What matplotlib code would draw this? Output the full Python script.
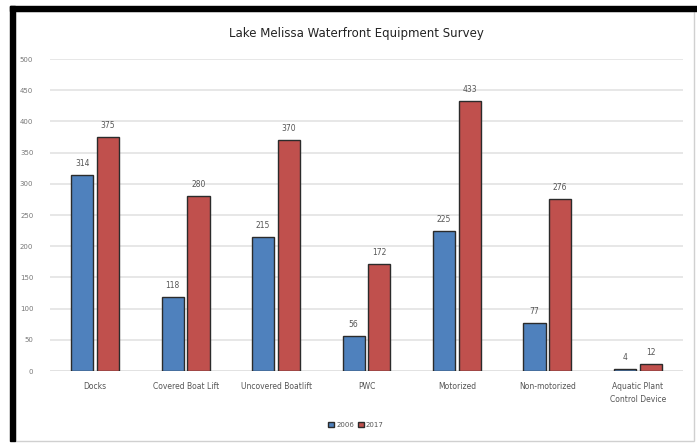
import numpy as np
import matplotlib.pyplot as plt
from matplotlib.patches import Rectangle

categories = ['Docks', 'Covered Boat Lift', 'Uncovered Boatlift', 'PWC',
              'Motorized', 'Non-motorized', 'Aquatic Plant\nControl Device']
years = ['2006', '2017']
vals_2006 = [314, 118, 215, 56, 225, 77, 4]
vals_2017 = [375, 280, 370, 172, 433, 276, 12]
yticks = [0, 50, 100, 150, 200, 250, 300, 350, 400, 450, 500]

W, H = 697, 445
fig = plt.figure(figsize=(W / 100, H / 100), dpi=100)
fig.patch.set_facecolor('white')

# frame around the picture
fig.patches.append(Rectangle((10 / W, 1 - 441 / H), 5 / W, 435 / H,
                             transform=fig.transFigure, color='black', zorder=5))
fig.patches.append(Rectangle((10 / W, 1 - 11 / H), 687 / W, 5 / H,
                             transform=fig.transFigure, color='black', zorder=5))
fig.patches.append(Rectangle((15 / W, 1 - 441 / H), 679 / W, 430 / H,
                             transform=fig.transFigure, facecolor='none',
                             edgecolor='#d0d0d0', lw=1, zorder=4))

ax = fig.add_axes([50 / W, 1 - 371 / H, 633 / W, 312 / H])

x = np.arange(len(categories))
w = 0.245
gap = 0.02
b1 = ax.bar(x - w / 2 - gap, vals_2006, w, color='#4F81BD', edgecolor='#2b2b2b',
            lw=1.0, label=years[0], zorder=3)
b2 = ax.bar(x + w / 2 + gap, vals_2017, w, color='#C0504D', edgecolor='#2b2b2b',
            lw=1.0, label=years[1], zorder=3)

for bars in (b1, b2):
    for r in bars:
        ax.annotate(str(int(r.get_height())), (r.get_x() + r.get_width() / 2, r.get_height()),
                    xytext=(0, 5), textcoords='offset points', ha='center', va='bottom',
                    fontsize=5.5, color='#555555')

ax.set_xlim(-0.5, len(categories) - 0.5)
ax.set_ylim(0, 500)
ax.set_yticks(yticks)
ax.tick_params(axis='y', labelsize=5, colors='#777777', length=0, pad=12)
ax.set_xticks(x)
ax.set_xticklabels(categories, fontsize=5.5, color='#555555', linespacing=1.6)
ax.tick_params(axis='x', length=0, pad=8)
ax.grid(axis='y', color='#e3e3e3', lw=1.2, zorder=0)
for s in ax.spines.values():
    s.set_visible(False)
ax.axhline(0, color='#d8d8d8', lw=1.2, zorder=1)

fig.text(356 / W, 1 - 33 / H, 'Lake Melissa Waterfront Equipment Survey',
         ha='center', va='center', fontsize=8.5, color='#222222')

fig.legend(loc='center', bbox_to_anchor=(356 / W, 1 - 425 / H), ncol=2, frameon=False,
           fontsize=5, handlelength=0.8, handleheight=0.8, handletextpad=0.3,
           columnspacing=0.6, labelcolor='#555555')

fig.savefig('out.png', dpi=100)
